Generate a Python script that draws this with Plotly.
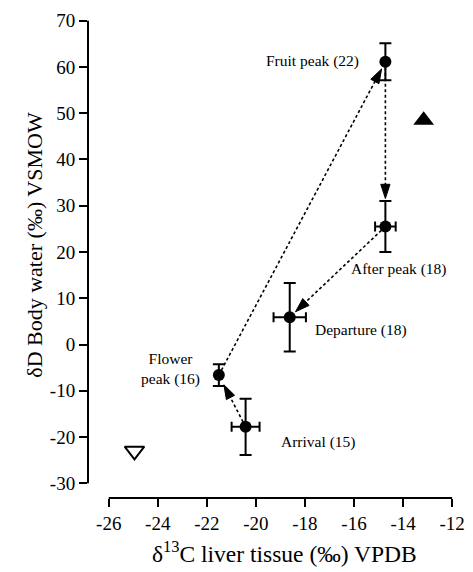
import math
import plotly.graph_objects as go

# ---- data ----
stage_labels = ["Arrival (15)", "Flower<br>peak (16)", "Fruit peak (22)", "After peak (18)", "Departure (18)"]
d13c = [-20.42, -21.51, -14.72, -14.72, -18.62]
d13c_err = [0.57, 0.0, 0.0, 0.42, 0.66]
dD = [-17.8, -6.6, 61.1, 25.5, 5.9]
dD_err = [6.1, 2.35, 4.0, 5.5, 7.4]

filled_tri_x = [-13.16]
filled_tri_y = [48.5]
open_tri_x = [-24.95]
open_tri_y = [-23.0]

x_tickvals = [-26, -24, -22, -20, -18, -16, -14, -12]
x_ticktext = ["-26", "-24", "-22", "-20", "-18", "-16", "-14", "-12"]
y_tickvals = [-30, -20, -10, 0, 10, 20, 30, 40, 50, 60, 70]
y_ticktext = ["-30", "-20", "-10", "0", "10", "20", "30", "40", "50", "60", "70"]

# ---- layout constants ----
W, H = 473, 572
ML, MR, MT, MB = 88, 8, 15, 74
XR = [-26.845, -11.678]
YR = [-33.18, 71.23]
SX = (W - ML - MR) / (XR[1] - XR[0])
SY = (H - MT - MB) / (YR[1] - YR[0])

FONT = "Liberation Serif, Times New Roman, serif"

fig = go.Figure()

# dashed arrows between successive stages
standoffs = [11, 8, 28, 8]
for i in range(len(d13c) - 1):
    x0, y0 = d13c[i], dD[i]
    x1, y1 = d13c[i + 1], dD[i + 1]
    dxp, dyp = (x1 - x0) * SX, (y1 - y0) * SY
    dist = math.hypot(dxp, dyp)
    f = standoffs[i] / dist
    tx, ty = x1 - (x1 - x0) * f, y1 - (y1 - y0) * f
    fig.add_trace(go.Scatter(
        x=[x0, tx], y=[y0, ty], mode="lines+markers",
        line=dict(color="black", width=1.6, dash="3px,2.5px"),
        marker=dict(symbol="arrow", size=[1, 15], color="black", angleref="previous",
                    opacity=1, line=dict(width=1, color="black")),
        hoverinfo="skip", showlegend=False,
    ))

# means with error bars
fig.add_trace(go.Scatter(
    x=d13c, y=dD, mode="markers",
    marker=dict(symbol="circle", size=12, color="black"),
    error_y=dict(type="data", array=dD_err, color="black", thickness=2, width=6),
    error_x=dict(type="data", array=d13c_err, color="black", thickness=2, width=5),
    showlegend=False,
))

fig.add_trace(go.Scatter(
    x=filled_tri_x, y=filled_tri_y, mode="markers",
    marker=dict(symbol="triangle-up", size=18, color="black"), showlegend=False,
))
fig.add_trace(go.Scatter(
    x=open_tri_x, y=open_tri_y, mode="markers",
    marker=dict(symbol="triangle-down-open", size=17, color="black", line=dict(width=2)),
    showlegend=False,
))

# stage labels
label_style = [
    dict(xanchor="left", xshift=33, yshift=-15),
    dict(xanchor="center", xshift=-48, yshift=6),
    dict(xanchor="right", xshift=-24, yshift=1),
    dict(xanchor="center", xshift=14, yshift=-42),
    dict(xanchor="left", xshift=23, yshift=-13),
]
for i, txt in enumerate(stage_labels):
    fig.add_annotation(x=d13c[i], y=dD[i], text=txt, showarrow=False,
                       yanchor="middle", align="center",
                       font=dict(family=FONT, size=15.5, color="black"), **label_style[i])

# axis titles
fig.add_annotation(xref="paper", yref="paper", x=(287 - ML) / (W - ML - MR), y=-(552 - (H - MB)) / (H - MT - MB),
                   text="δ<sup>13</sup>C liver tissue (‰) VPDB", showarrow=False,
                   xanchor="center", yanchor="middle", font=dict(family=FONT, size=23.5, color="black"))
fig.add_annotation(xref="paper", yref="paper", x=-(ML - 33) / (W - ML - MR), y=((H - MB) - 245) / (H - MT - MB),
                   text="δD Body water (‰) VSMOW", showarrow=False, textangle=-90,
                   xanchor="center", yanchor="middle", font=dict(family=FONT, size=22, color="black"))

# detached axis lines
fig.add_shape(type="line", xref="x", yref="paper", x0=x_tickvals[0], x1=x_tickvals[-1], y0=0, y1=0,
              line=dict(color="black", width=2))
fig.add_shape(type="line", xref="paper", yref="y", x0=0, x1=0, y0=y_tickvals[0], y1=y_tickvals[-1],
              line=dict(color="black", width=2))

fig.update_layout(
    width=W, height=H,
    margin=dict(l=ML, r=MR, t=MT, b=MB),
    paper_bgcolor="white", plot_bgcolor="white",
    showlegend=False,
    xaxis=dict(range=XR, tickvals=x_tickvals, ticktext=x_ticktext, ticks="outside", ticklen=8,
               tickwidth=2, tickcolor="black", showgrid=False, zeroline=False, showline=False,
               tickfont=dict(family=FONT, size=19, color="black")),
    yaxis=dict(range=YR, tickvals=y_tickvals, ticktext=y_ticktext, ticks="outside", ticklen=8,
               tickwidth=2, tickcolor="black", showgrid=False, zeroline=False, showline=False,
               tickfont=dict(family=FONT, size=19, color="black")),
)

fig.write_html("out.html", config={"displayModeBar": False},
               post_script="document.body.style.margin='0';document.body.style.overflow='hidden';")
